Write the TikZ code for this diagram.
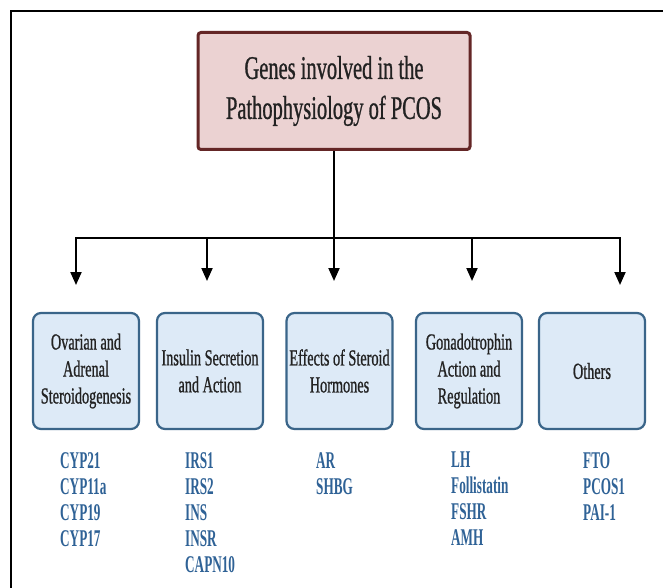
\documentclass[tikz,border=0pt]{standalone}
\usepackage{fontspec}
\setmainfont{Liberation Serif}
\newfontfamily\condfont[FakeStretch=0.62,FakeBold=0.8]{Liberation Serif}
\newfontfamily\genefont[FakeStretch=0.55]{Liberation Serif}
\usetikzlibrary{positioning,arrows.meta}
\definecolor{titlefill}{HTML}{EBD2D2}
\definecolor{titledraw}{HTML}{642626}
\definecolor{boxfill}{HTML}{DDEAF7}
\definecolor{boxdraw}{HTML}{3A6589}
\definecolor{genetext}{HTML}{2F6296}
\definecolor{darktext}{HTML}{222222}

\begin{document}
\begin{tikzpicture}[
  x=1pt, y=-1pt,
  titlebox/.style={
    draw=titledraw,
    fill=titlefill,
    line width=3pt,
    rounded corners=3pt,
    align=center,
    text=darktext,
    minimum width=272pt,
    minimum height=117pt,
    font=\condfont\fontsize{33}{40}\selectfont
  },
  box/.style={
    draw=boxdraw,
    fill=boxfill,
    line width=2.2pt,
    rounded corners=8pt,
    align=center,
    text=darktext,
    inner sep=2pt,
    minimum width=106pt,
    minimum height=116pt,
    font=\condfont\fontsize{23}{27}\selectfont
  },
  genelist/.style={
    align=left,
    inner sep=0pt,
    text=genetext,
    anchor=north west,
    font=\genefont\bfseries\fontsize{24}{26}\selectfont
  },
  line/.style={line width=2pt},
  arrow/.style={-{Triangle[width=11pt,length=13pt]}, line width=2pt}
]
\useasboundingbox (0,0) rectangle (663,588);
\fill[white] (0,0) rectangle (663,588);
\draw[line width=2.5pt] (11,588) -- (11,11) -- (663,11);

\node[titlebox] (genes) at (334,91) {Genes involved in the\\Pathophysiology of PCOS};

\node[box] (ovarian) at (86,371) {Ovarian and\\Adrenal\\Steroidogenesis};
\node[box] (insulin) at (210,371) {Insulin Secretion\\and Action};
\node[box] (steroid) at (339.5,371) {Effects of Steroid\\Hormones};
\node[box] (gonado) at (469,371) {Gonadotrophin\\Action and\\Regulation};
\node[box] (others) at (592,371) {Others};

\node[genelist] (ovarianlist) at (60,452) {CYP21\\CYP11a\\CYP19\\CYP17};
\node[genelist] (insulinlist) at (185,452) {IRS1\\IRS2\\INS\\INSR\\CAPN10};
\node[genelist] (steroidlist) at (316,452) {AR\\SHBG};
\node[genelist] (gonadolist) at (451,452) {LH\\Follistatin\\FSHR\\AMH};
\node[genelist] (otherslist) at (583,452) {FTO\\PCOS1\\PAI-1};

\coordinate (split) at (334,238);
\coordinate (to1) at (76,285);
\coordinate (to2) at (207,281);
\coordinate (to3) at (334,281);
\coordinate (to4) at (472,281);
\coordinate (to5) at (620,285);

\draw[line] (genes) -- (split);
\draw[arrow] (split) -- (to3);
\foreach \t in {to1,to2,to4,to5}
  \draw[arrow] (split) -| (\t);

\end{tikzpicture}
\end{document}
